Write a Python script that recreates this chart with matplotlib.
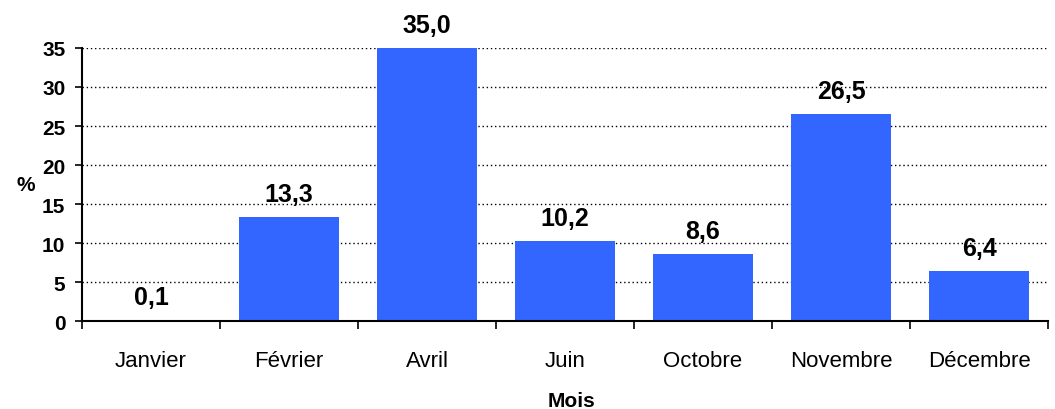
import numpy as np
from matplotlib import pyplot as plt

plt.rcParams['font.family'] = ['Liberation Sans', 'DejaVu Sans']

months = ["Janvier", "Février", "Avril", "Juin", "Octobre", "Novembre", "Décembre"]
values = [0.1, 13.3, 35.0, 10.2, 8.6, 26.5, 6.4]
value_labels = ["0,1", "13,3", "35,0", "10,2", "8,6", "26,5", "6,4"]
yticks = [0, 5, 10, 15, 20, 25, 30, 35]

fig = plt.figure(figsize=(10.55, 4.10), dpi=100)
ax = fig.add_axes([0.0777, 0.2146, 0.9157, 0.6659])

x = np.arange(len(months))
bars = ax.bar(x, values, width=0.73, color="#3366FF", zorder=2)

for b, lab in zip(bars, value_labels):
    ax.annotate(lab, (b.get_x() + b.get_width() / 2, b.get_height()),
                xytext=(0, 8), textcoords="offset points",
                ha="center", va="bottom", fontsize=18, fontweight="bold")

ax.set_xlim(-0.5, len(months) - 0.5)
ax.set_ylim(0, 35)
ax.set_yticks(yticks)
ax.set_yticklabels([str(v) for v in yticks], fontsize=15, fontweight="bold")

# category labels between boundary ticks
ax.set_xticks(np.arange(len(months) + 1) - 0.5)
ax.set_xticklabels([])
ax.set_xticks(x, minor=True)
ax.set_xticklabels(months, minor=True, fontsize=16)
ax.tick_params(axis="x", which="minor", length=0, pad=21)
ax.tick_params(axis="x", which="major", length=6, width=1.2, direction="out")
ax.tick_params(axis="y", length=5, width=1.2, direction="out", pad=7)

for v in yticks[1:]:
    ax.axhline(v, color="black", lw=1, ls=(0, (1, 2)), zorder=1)

for s in ["top", "right"]:
    ax.spines[s].set_visible(False)
ax.spines["left"].set_linewidth(1.5)
ax.spines["bottom"].set_linewidth(1.5)

ax.set_xlabel("Mois", fontsize=15, fontweight="bold", va="center")
ax.xaxis.set_label_coords(0.507, -0.292)
ax.set_ylabel("%", fontsize=15, fontweight="bold", rotation=0, labelpad=12, va="center")

fig.savefig("out.png", dpi=100)
